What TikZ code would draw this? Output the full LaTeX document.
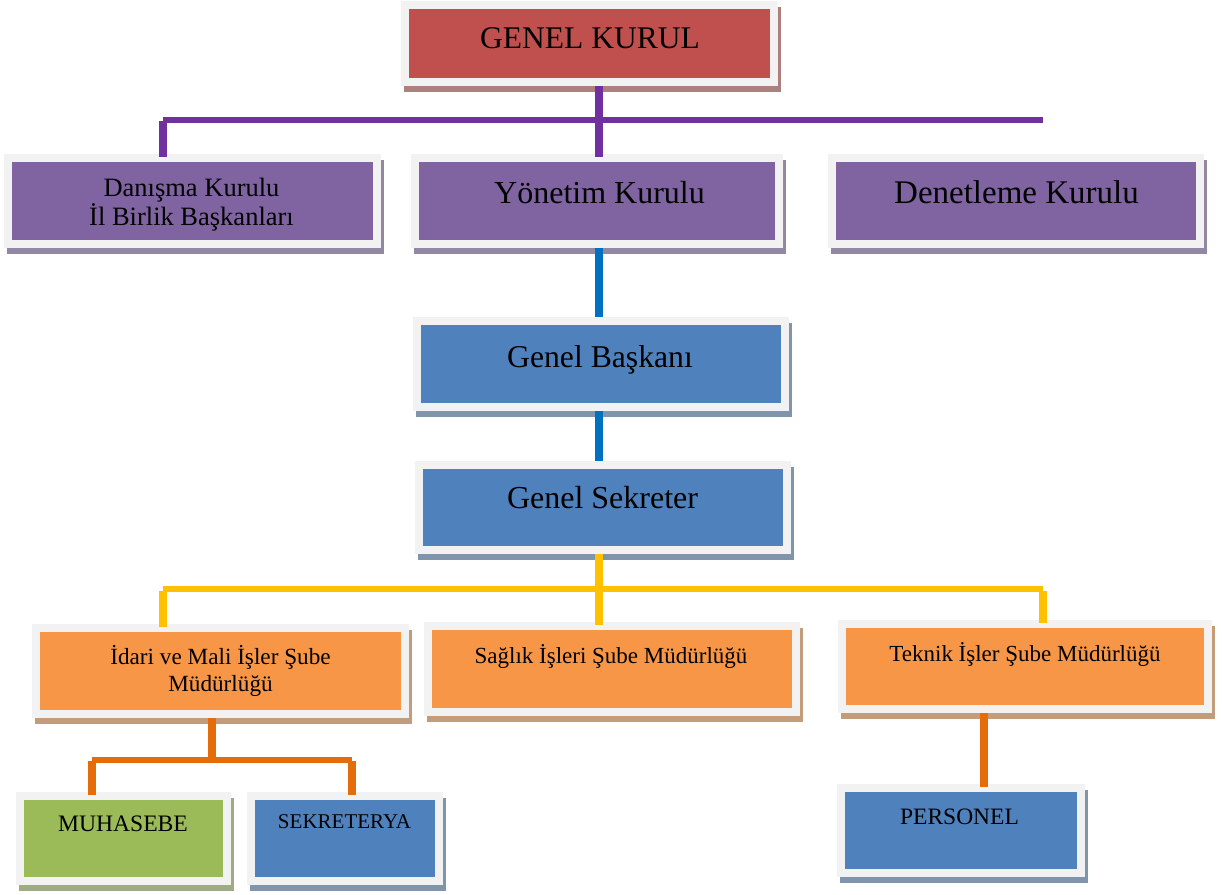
\documentclass[tikz,border=0pt]{standalone}
\usepackage{fontspec}
\setmainfont{Liberation Serif}
\definecolor{fr}{HTML}{F2F2F2}
\definecolor{cred}{HTML}{C0504D}
\definecolor{cpurbox}{HTML}{8064A2}
\definecolor{cblue}{HTML}{4F81BD}
\definecolor{corg}{HTML}{F79646}
\definecolor{cgrn}{HTML}{9BBB59}
\definecolor{shbase}{RGB}{160,160,160}
\colorlet{credsh}{cred!40!shbase}
\colorlet{cpursh}{cpurbox!40!shbase}
\colorlet{cbluesh}{cblue!40!shbase}
\colorlet{corgsh}{corg!40!shbase}
\colorlet{cgrnsh}{cgrn!40!shbase}
\definecolor{lpur}{HTML}{7030A0}
\definecolor{lblue}{HTML}{0070C0}
\definecolor{lyel}{HTML}{FFC000}
\definecolor{lorg}{HTML}{E46C0A}
\tikzset{
  orgbox/.style={rectangle, draw=fr, line width=8pt, fill=#1, inner sep=0pt},
  shbox/.style={fill=#1},
  lbl/.style={anchor=base, inner sep=0pt, text=black},
  conn/.style={draw=#1, line width=8pt},
  bar/.style={draw=#1, line width=6pt}
}
\newcommand\fs[1]{\fontsize{#1}{#1}\selectfont}
\begin{document}
\begin{tikzpicture}[x=1pt,y=-1pt]
\useasboundingbox (0,0) rectangle (1222,894);
% shadows
\fill[shbox=credsh] (404,7) rectangle (781,92);
\fill[shbox=cpursh] (7,160) rectangle (384,254);
\fill[shbox=cpursh] (414,160) rectangle (786,254);
\fill[shbox=cpursh] (831,160) rectangle (1207,254);
\fill[shbox=cbluesh] (416,323) rectangle (792,417);
\fill[shbox=cbluesh] (418,467) rectangle (794,560);
\fill[shbox=corgsh] (35,630) rectangle (412,724);
\fill[shbox=corgsh] (427,628) rectangle (803,722);
\fill[shbox=corgsh] (841,626) rectangle (1215,719);
\fill[shbox=cgrnsh] (19,798) rectangle (234,891);
\fill[shbox=cbluesh] (250,798) rectangle (446,891);
\fill[shbox=cbluesh] (840,790) rectangle (1088,883);
% boxes
\node[orgbox=cred, minimum width=369pt, minimum height=77pt] (gk) at (589.5,43.5) {};
\node[orgbox=cpurbox, minimum width=369pt, minimum height=86pt] (dk) at (192.5,201) {};
\node[orgbox=cpurbox, minimum width=364pt, minimum height=86pt] (yk) at (597,201) {};
\node[orgbox=cpurbox, minimum width=368pt, minimum height=86pt] (dn) at (1016,201) {};
\node[orgbox=cblue, minimum width=368pt, minimum height=86pt] (gb) at (601,364) {};
\node[orgbox=cblue, minimum width=368pt, minimum height=85pt] (gs) at (603,507.5) {};
\node[orgbox=corg, minimum width=369pt, minimum height=86pt] (id) at (220.5,671) {};
\node[orgbox=corg, minimum width=368pt, minimum height=86pt] (sg) at (612,669) {};
\node[orgbox=corg, minimum width=366pt, minimum height=85pt] (tk) at (1025,666.5) {};
\node[orgbox=cgrn, minimum width=207pt, minimum height=85pt] (mu) at (123.5,838.5) {};
\node[orgbox=cblue, minimum width=188pt, minimum height=85pt] (se) at (345,838.5) {};
\node[orgbox=cblue, minimum width=240pt, minimum height=85pt] (pe) at (961,830.5) {};
% connectors: purple
\coordinate (pL) at (163,119.5);
\coordinate (pR) at (1043,119.5);
\draw[bar=lpur] (pL) -- (pR);
\draw[conn=lpur] ([xshift=9pt]gk.south) -- ([xshift=1.5pt,yshift=-3pt]yk.north);
\draw[conn=lpur] ([xshift=-29.5pt,yshift=-3pt]dk.north) -- ([yshift=-1.5pt]pL);
% blue
\draw[conn=lblue] ([xshift=1.5pt]yk.south) -- ([xshift=-2.5pt]gb.north);
\draw[conn=lblue] ([xshift=-2.5pt]gb.south) -- ([xshift=-4.5pt]gs.north);
% yellow
\coordinate (yL) at (163,589);
\coordinate (yR) at (1043,589);
\draw[bar=lyel] (yL) -- (yR);
\draw[conn=lyel] ([xshift=-4.5pt]gs.south) -- ([xshift=-13.5pt,yshift=-3pt]sg.north);
\draw[conn=lyel] ([xshift=-57.5pt,yshift=-3pt]id.north) -- ([yshift=-2pt]yL);
\draw[conn=lyel] ([xshift=18pt,yshift=-3pt]tk.north) -- ([yshift=-2pt]yR);
% orange
\coordinate (oJ) at (212,759.5);
\coordinate (oL) at (91.5,759.5);
\coordinate (oR) at (351.5,759.5);
\draw[bar=lorg] (oL) -- (oR);
\draw[conn=lorg] ([xshift=-8.5pt]id.south) -- (oJ);
\draw[conn=lorg] ([xshift=-32pt,yshift=-3pt]mu.north) -- ([yshift=-1.5pt]oL);
\draw[conn=lorg] ([xshift=6.5pt,yshift=-3pt]se.north) -- ([yshift=-1.5pt]oR);
\draw[conn=lorg] ([xshift=-41pt]tk.south) -- ([xshift=23pt,yshift=-3pt]pe.north);
% labels
\node[lbl, font=\fs{31.5}] (gk-t) at (590,48) {GENEL KURUL};
\node[lbl, font=\fs{26.5}] (dk-t1) at (191.5,196) {Danışma Kurulu};
\node[lbl, font=\fs{26.5}] (dk-t2) at (191.5,225) {İl Birlik Başkanları};
\node[lbl, font=\fs{32}] (yk-t) at (599.5,203) {Yönetim Kurulu};
\node[lbl, font=\fs{33}] (dn-t) at (1016.5,203) {Denetleme Kurulu};
\node[lbl, font=\fs{31.7}] (gb-t) at (600,367) {Genel Başkanı};
\node[lbl, font=\fs{32}] (gs-t) at (602.5,508) {Genel Sekreter};
\node[lbl, font=\fs{23.2}] (id-t1) at (220.5,664) {İdari ve Mali İşler Şube};
\node[lbl, font=\fs{23.2}] (id-t2) at (220.5,691) {Müdürlüğü};
\node[lbl, font=\fs{23}] (sg-t) at (611,663) {Sağlık İşleri Şube Müdürlüğü};
\node[lbl, font=\fs{23}] (tk-t) at (1025,661) {Teknik İşler Şube Müdürlüğü};
\node[lbl, font=\fs{23.6}] (mu-t) at (123,831) {MUHASEBE};
\node[lbl, font=\fs{21}] (se-t) at (344.5,828) {SEKRETERYA};
\node[lbl, font=\fs{23.5}] (pe-t) at (959.5,824) {PERSONEL};
\end{tikzpicture}
\end{document}
